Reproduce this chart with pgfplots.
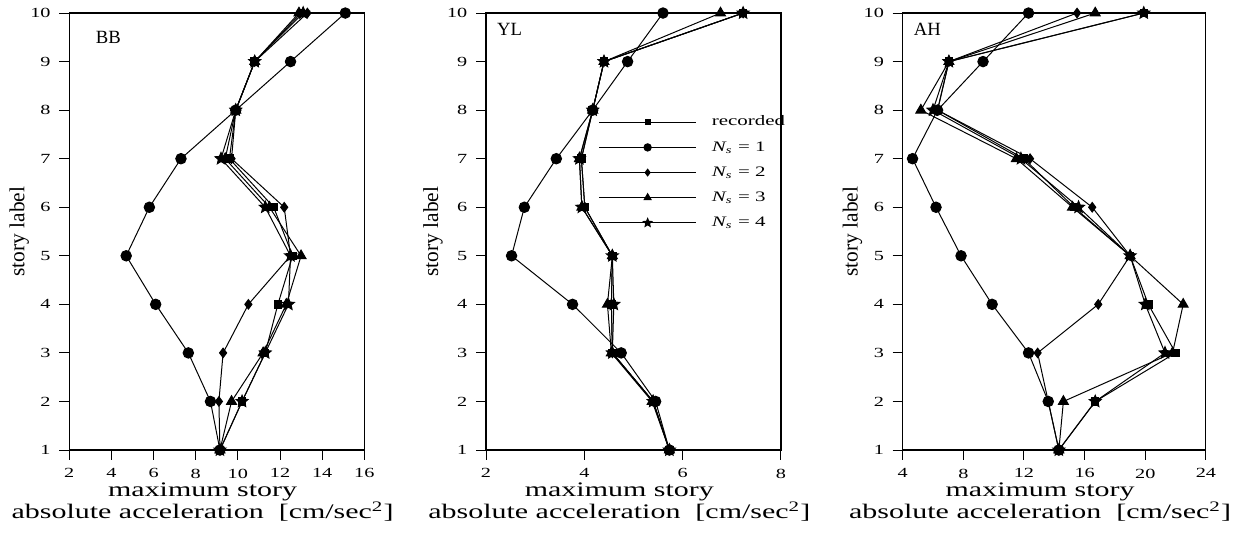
\documentclass[border=0pt]{standalone}
\usepackage{fontspec}
\usepackage{pgfplots}
\pgfplotsset{compat=1.18}
\setmainfont{Liberation Serif}
\newfontfamily\wideserif{Liberation Serif}[FakeStretch=1.45]
\newcommand\tickfont{\wideserif\fontsize{5.6}{6.7}\selectfont}
\newcommand\xlfont{\wideserif\fontsize{8.3}{8.8}\selectfont}
\newcommand\legfont{\wideserif\fontsize{5.8}{7}\selectfont}
\newcommand\ylfont{\fontsize{8.6}{9}\selectfont}
\newcommand\panelfont{\fontsize{7.5}{8}\selectfont}

% filled five-point star
\pgfdeclareplotmark{fstar}{%
  \pgfpathmoveto{\pgfpointpolar{90}{\pgfplotmarksize}}%
  \pgfpathlineto{\pgfpointpolar{126}{0.45\pgfplotmarksize}}%
  \pgfpathlineto{\pgfpointpolar{162}{\pgfplotmarksize}}%
  \pgfpathlineto{\pgfpointpolar{198}{0.45\pgfplotmarksize}}%
  \pgfpathlineto{\pgfpointpolar{234}{\pgfplotmarksize}}%
  \pgfpathlineto{\pgfpointpolar{270}{0.45\pgfplotmarksize}}%
  \pgfpathlineto{\pgfpointpolar{306}{\pgfplotmarksize}}%
  \pgfpathlineto{\pgfpointpolar{342}{0.45\pgfplotmarksize}}%
  \pgfpathlineto{\pgfpointpolar{18}{\pgfplotmarksize}}%
  \pgfpathlineto{\pgfpointpolar{54}{0.45\pgfplotmarksize}}%
  \pgfpathclose
  \pgfusepathqfillstroke}

\pgfplotsset{
  panel/.style={
    scale only axis, height=6.167cm,
    ymin=1, ymax=10, ytick={1,...,10},
    clip=false,
    tick align=outside, xtick pos=lower, ytick pos=left,
    major tick length=0.14cm,
    tick style={black, line width=0.4pt},
    axis line style={line width=0.45pt},
    ticklabel style={font=\tickfont},
    /pgf/number format/assume math mode=true,
    ylabel={\ylfont story label},
    xlabel={maximum story\\absolute acceleration~~[cm/sec\textsuperscript{2}]},
    xlabel style={font=\xlfont, align=center, at={(axis description cs:0.5,0)},
      anchor=north, yshift=-0.34cm, xshift=-0.2cm},
    every axis plot/.append style={black, line width=0.4pt},
  },
  rec/.style={mark=square*, mark size=1.5pt, mark options={solid, fill=black}},
  ns1/.style={mark=*, mark size=2.1pt, mark options={solid, fill=black}},
  ns2/.style={mark=diamond*, mark size=1.9pt, mark options={solid, fill=black}},
  ns3/.style={mark=triangle*, mark size=2.3pt, mark options={solid, fill=black}},
  ns4/.style={mark=fstar, mark size=2.5pt, mark options={solid, fill=black}},
}

\begin{document}
\begin{tikzpicture}

% BB
\begin{axis}[panel, at={(0.978cm,1.256cm)}, anchor=south west, width=4.163cm,
  xmin=2, xmax=16, xtick={2,4,...,16},
  ylabel style={at={(axis description cs:-0.17,0.5)}, anchor=center}]
\addplot[rec] coordinates {(9.15,1)(10.2,2)(11.3,3)(11.9,4)(12.6,5)(11.7,6)(9.6,7)(9.9,8)(10.8,9)(13.0,10)};
\addplot[ns1] coordinates {(9.15,1)(8.7,2)(7.65,3)(6.1,4)(4.7,5)(5.8,6)(7.3,7)(9.9,8)(12.5,9)(15.1,10)};
\addplot[ns2] coordinates {(9.15,1)(9.1,2)(9.3,3)(10.5,4)(12.5,5)(12.2,6)(9.7,7)(9.9,8)(10.8,9)(13.3,10)};
\addplot[ns3] coordinates {(9.15,1)(9.7,2)(11.2,3)(12.3,4)(13.0,5)(11.5,6)(9.4,7)(9.9,8)(10.8,9)(12.9,10)};
\addplot[ns4] coordinates {(9.15,1)(10.2,2)(11.3,3)(12.4,4)(12.5,5)(11.3,6)(9.2,7)(9.9,8)(10.8,9)(13.1,10)};
\node[anchor=north west, inner sep=0pt, font=\panelfont] at (rel axis cs:0,1) [xshift=0.367cm, yshift=-0.25cm] {BB};
\end{axis}

% YL
\begin{axis}[panel, at={(6.859cm,1.256cm)}, anchor=south west, width=4.163cm,
  xmin=2, xmax=8, xtick={2,4,6,8},
  ylabel style={at={(axis description cs:-0.18,0.5)}, anchor=center},
  legend style={draw=none, fill=none, font=\legfont, at={(rel axis cs:0.38,0.772)},
    anchor=north west, inner sep=0pt, row sep=2.8pt,
    nodes={inner sep=1pt, text height=4.1pt, text depth=1.2pt},
    /tikz/every odd column/.style={column sep=0.18cm}},
  legend cell align=left,
  legend image code/.code={\draw[#1, mark=none] (0cm,0cm) -- (1.37cm,0cm);
    \draw[#1, only marks, mark options={scale=0.7}] plot coordinates {(0.685cm,0cm)};}]
\addplot[rec] coordinates {(5.73,1)(5.4,2)(4.57,3)(4.55,4)(4.57,5)(4.01,6)(3.94,7)(4.17,8)(4.4,9)(7.23,10)};
\addplot[ns1] coordinates {(5.73,1)(5.45,2)(4.75,3)(3.76,4)(2.52,5)(2.78,6)(3.43,7)(4.17,8)(4.88,9)(5.6,10)};
\addplot[ns2] coordinates {(5.73,1)(5.4,2)(4.57,3)(4.55,4)(4.57,5)(4.01,6)(3.94,7)(4.17,8)(4.4,9)(7.23,10)};
\addplot[ns3] coordinates {(5.73,1)(5.38,2)(4.55,3)(4.47,4)(4.57,5)(3.95,6)(3.9,7)(4.17,8)(4.4,9)(6.77,10)};
\addplot[ns4] coordinates {(5.73,1)(5.4,2)(4.57,3)(4.6,4)(4.57,5)(3.95,6)(3.9,7)(4.17,8)(4.4,9)(7.23,10)};
\legend{recorded, {\itshape N\textsubscript{s}} = 1, {\itshape N\textsubscript{s}} = 2,
  {\itshape N\textsubscript{s}} = 3, {\itshape N\textsubscript{s}} = 4}
\node[anchor=north west, inner sep=0pt, font=\panelfont] at (rel axis cs:0,1) [xshift=0.15cm, yshift=-0.14cm] {YL};
\end{axis}

% AH
\begin{axis}[panel, at={(12.739cm,1.256cm)}, anchor=south west, width=4.28cm,
  xmin=4, xmax=24, xtick={4,8,...,24},
  ylabel style={at={(axis description cs:-0.165,0.5)}, anchor=center}]
\addplot[rec] coordinates {(14.3,1)(16.7,2)(22.0,3)(20.2,4)(19.0,5)(15.3,6)(12.0,7)(6.3,8)(7.05,9)(19.9,10)};
\addplot[ns1] coordinates {(14.3,1)(13.6,2)(12.3,3)(9.9,4)(7.85,5)(6.2,6)(4.65,7)(6.3,8)(9.3,9)(12.3,10)};
\addplot[ns2] coordinates {(14.3,1)(13.6,2)(12.9,3)(16.9,4)(19.0,5)(16.5,6)(12.4,7)(6.3,8)(7.05,9)(15.5,10)};
\addplot[ns3] coordinates {(14.3,1)(14.6,2)(21.8,3)(22.5,4)(19.0,5)(15.2,6)(11.5,7)(5.2,8)(7.05,9)(16.7,10)};
\addplot[ns4] coordinates {(14.3,1)(16.7,2)(21.3,3)(20.0,4)(19.0,5)(15.6,6)(11.8,7)(6.0,8)(7.05,9)(19.9,10)};
\node[anchor=north west, inner sep=0pt, font=\panelfont] at (rel axis cs:0,1) [xshift=0.15cm, yshift=-0.14cm] {AH};
\end{axis}

\pgfresetboundingbox
\useasboundingbox (0,0) rectangle (17.5cm,7.607cm);
\end{tikzpicture}
\end{document}
